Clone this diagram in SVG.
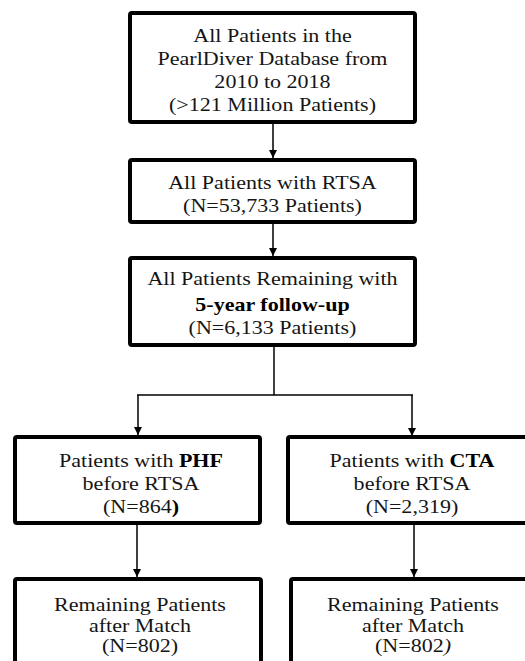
<svg xmlns="http://www.w3.org/2000/svg" width="525" height="661" viewBox="0 0 525 661">
<style>
.box{fill:#fff;stroke:#000;stroke-width:4}
.t{font-family:'Liberation Serif','Times New Roman',serif;font-size:19.5px;fill:#151515;text-anchor:middle}
.b{font-weight:bold;fill:#000}
.c{fill:none;stroke:#000;stroke-width:1.5}
</style>
<defs>
<marker id="ah" viewBox="0 0 10 10" refX="10" refY="5" markerWidth="8" markerHeight="8" markerUnits="userSpaceOnUse" orient="auto">
<path d="M0,0 L10,5 L0,10 Z" fill="#000"/>
</marker>
</defs>
<rect width="525" height="661" fill="#fff"/>
<g id="connectors">
<line class="c" x1="273" y1="122" x2="273" y2="158" marker-end="url(#ah)"/>
<line class="c" x1="273" y1="222" x2="273" y2="256" marker-end="url(#ah)"/>
<polyline class="c" points="274,345 274,395"/>
<line class="c" x1="137" y1="395" x2="413" y2="395"/>
<line class="c" x1="138" y1="395" x2="138" y2="435" marker-end="url(#ah)"/>
<line class="c" x1="412" y1="395" x2="412" y2="436" marker-end="url(#ah)"/>
<line class="c" x1="137" y1="523" x2="137" y2="577" marker-end="url(#ah)"/>
<line class="c" x1="414" y1="523" x2="414" y2="577" marker-end="url(#ah)"/>
</g>
<g id="n1">
<rect class="box" x="130" y="13" width="285" height="109" rx="2"/>
<g transform="translate(272.5,0) scale(1.13,1) translate(-272.5,0)">
<text class="t" x="272.5" y="42">All Patients in the</text>
<text class="t" x="272.5" y="65">PearlDiver Database from</text>
<text class="t" x="272.5" y="88">2010 to 2018</text>
<text class="t" x="272.5" y="111">(&gt;121 Million Patients)</text>
</g>
</g>
<g id="n2">
<rect class="box" x="130" y="160" width="285" height="62" rx="2"/>
<g transform="translate(272.5,0) scale(1.13,1) translate(-272.5,0)">
<text class="t" x="272.5" y="189">All Patients with RTSA</text>
<text class="t" x="272.5" y="212">(N=53,733 Patients)</text>
</g>
</g>
<g id="n3">
<rect class="box" x="130" y="258" width="285" height="87" rx="2"/>
<g transform="translate(272.5,0) scale(1.13,1) translate(-272.5,0)">
<text class="t" x="272.5" y="285">All Patients Remaining with</text>
<text class="t b" x="272.5" y="311">5-year follow-up</text>
<text class="t" x="272.5" y="334">(N=6,133 Patients)</text>
</g>
</g>
<g id="n4">
<rect class="box" x="15" y="437" width="245" height="86" rx="2"/>
<g transform="translate(141,0) scale(1.13,1) translate(-141,0)">
<text class="t" x="141" y="467">Patients with <tspan class="b">PHF</tspan></text>
<text class="t" x="141" y="490">before RTSA</text>
<text class="t" x="141" y="513">(N=864<tspan class="b">)</tspan></text>
</g>
</g>
<g id="n5">
<rect class="box" x="288" y="437" width="248" height="86" rx="2"/>
<g transform="translate(412,0) scale(1.13,1) translate(-412,0)">
<text class="t" x="412" y="467">Patients with <tspan class="b">CTA</tspan></text>
<text class="t" x="412" y="490">before RTSA</text>
<text class="t" x="412" y="513">(N=2,319)</text>
</g>
</g>
<g id="n6">
<rect class="box" x="15" y="579" width="246" height="100" rx="2"/>
<g transform="translate(140,0) scale(1.13,1) translate(-140,0)">
<text class="t" x="140" y="611">Remaining Patients</text>
<text class="t" x="140" y="632">after Match</text>
<text class="t" x="140" y="652">(N=802)</text>
</g>
</g>
<g id="n7">
<rect class="box" x="291" y="579" width="245" height="100" rx="2"/>
<g transform="translate(413,0) scale(1.13,1) translate(-413,0)">
<text class="t" x="413" y="611">Remaining Patients</text>
<text class="t" x="413" y="632">after Match</text>
<text class="t" x="413" y="652">(N=802<tspan font-style="italic">)</tspan></text>
</g>
</g>
</svg>
